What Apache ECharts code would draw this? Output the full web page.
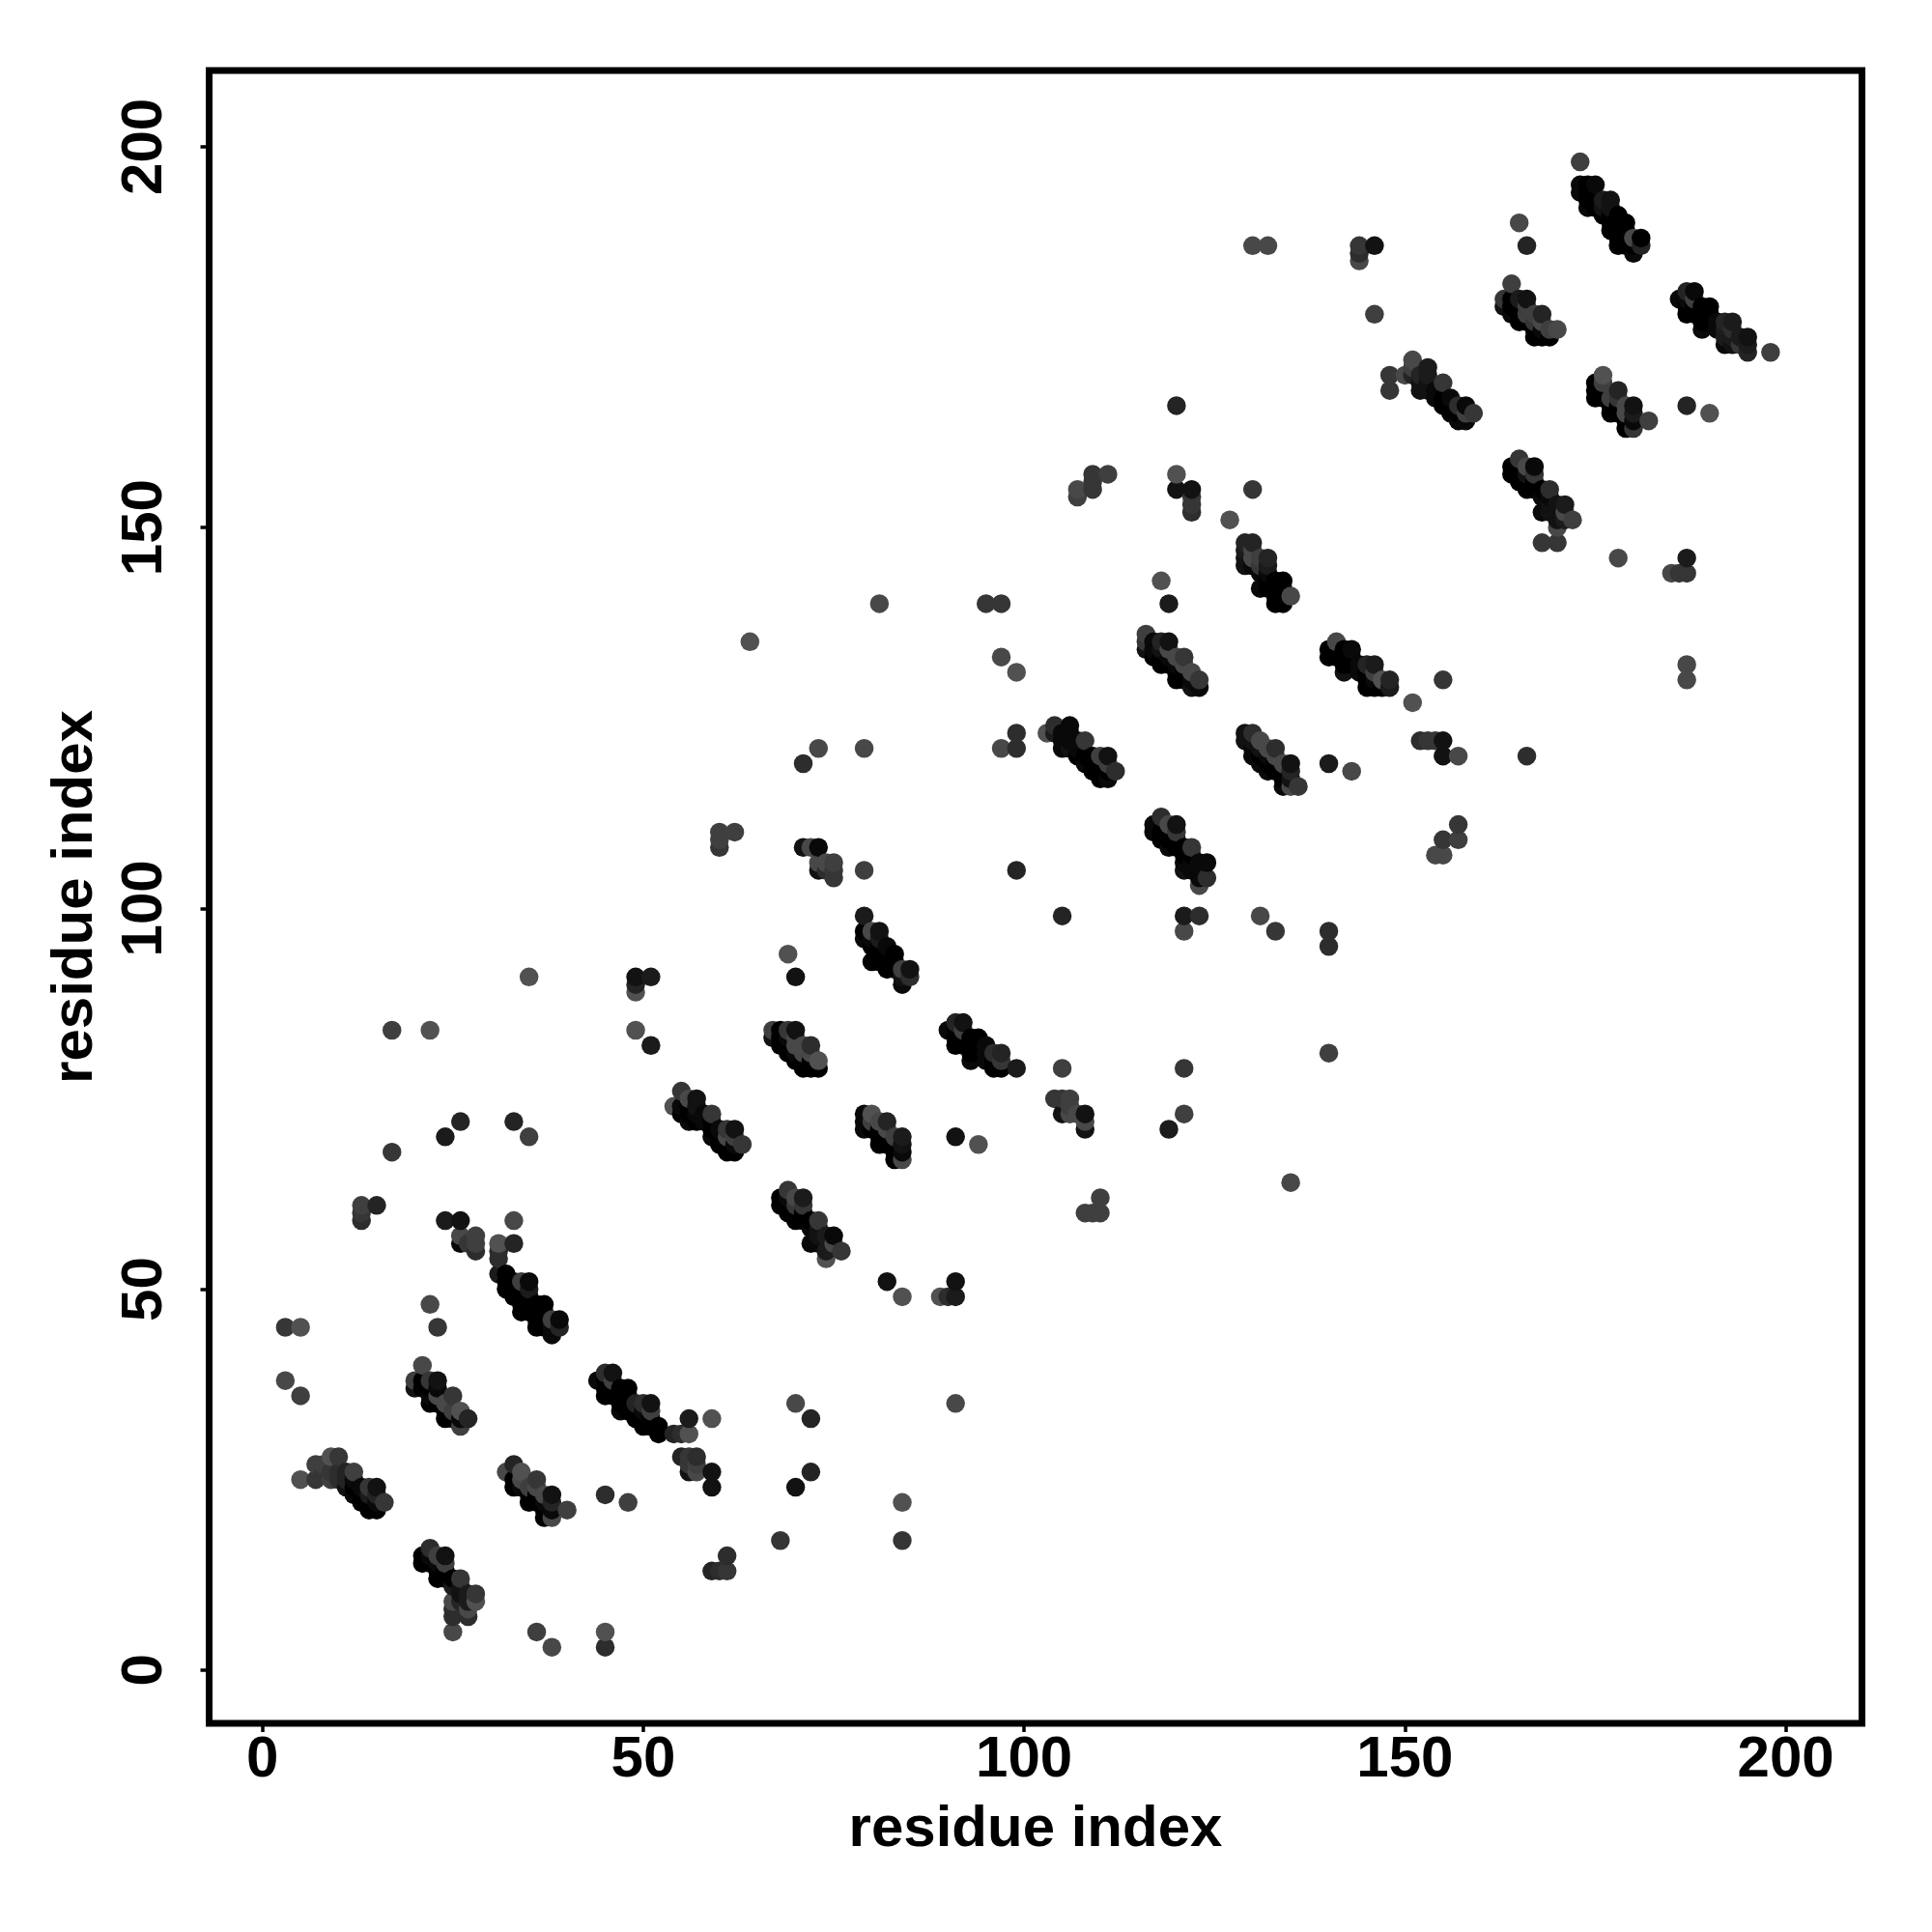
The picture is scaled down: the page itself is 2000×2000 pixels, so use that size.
<!DOCTYPE html>
<html><head><meta charset="utf-8">
<style>html,body{margin:0;padding:0;background:#fff}#c{width:2000px;height:2000px}</style>
<script src="https://cdn.jsdelivr.net/npm/echarts@6/dist/echarts.min.js"></script>
</head><body><div id="c"></div>
<script>
// Contacts: [residue i, residue j, strength 0..9]
const tickValues = [0, 50, 100, 150, 200];
const axisTitle = 'residue index';

const isolated = [
[3,45,3],[5,45,0],[3,38,1],[5,36,2],[22,48,1],[23,45,3],[36,5,2],[38,3,1],[45,5,0],[45,3,4],[45,23,4],[48,22,2],[25,5,1],
[17,84,2],[22,84,0],[35,91,0],[49,91,7],[49,90,5],[49,89,0],[51,91,6],[49,84,0],[51,82,6],
[13,61,2],[13,60,3],[13,59,4],[15,61,5],[17,68,3],[24,70,6],[26,72,5],[33,72,5],[35,70,2],
[24,59,6],[26,59,7],[33,59,1],[33,56,5],[56,33,6],[59,33,0],
[70,35,1],[72,33,5],[72,26,5],[70,24,7],[82,51,7],[84,49,0],[89,49,0],[90,49,4],[91,49,6],[91,51,7],[91,35,1],
[84,22,0],[84,17,3],[68,17,3],[61,15,4],[59,13,5],[60,13,4],[61,13,3],
[60,110,2],[60,109,2],[60,108,3],[62,110,2],[79,105,2],[99,105,5],[79,99,6],[69,94,0],[70,91,7],[91,70,7],[94,69,0],
[81,140,1],[95,140,3],[97,140,3],[97,133,1],[99,131,0],[64,135,0],[73,121,1],[71,119,4],[79,121,1],[99,123,4],[97,121,1],[99,121,4],[105,99,5],
[105,79,2],[121,79,3],[121,73,2],[119,71,6],[140,81,2],[140,97,4],[140,95,4],[133,97,3],[131,99,1],[121,97,1],[123,99,4],[121,99,6],
[110,62,2],[108,60,2],[109,60,2],[110,60,2],[135,64,1],[140,119,6],[143,118,1],[151,127,0],[155,130,3],
[152,122,4],[153,122,3],[154,122,3],[155,122,7],[155,120,7],[157,120,1],[166,120,4],[157,111,3],[157,109,2],[155,109,3],[154,107,1],[155,107,1],
[107,155,1],[107,154,2],[109,157,3],[109,156,3],[109,155,3],[111,157,2],[120,166,5],[120,157,0],[120,155,7],[122,155,7],[122,154,3],[122,153,3],[122,152,4],
[130,155,3],[127,151,0],[118,143,0],[119,140,6],
[130,187,1],[132,187,1],[144,187,3],[144,186,4],[144,185,1],[146,187,7],[146,178,2],[165,190,1],[166,187,5],[187,166,5],[190,165,0],[198,173,2],
[178,146,1],[187,146,6],[185,144,1],[186,144,3],[187,144,3],[187,132,1],[187,130,1],[168,148,3],[170,148,3]
];

const blockA = [
[5,25,0],[7,25,3],[7,27,2],[8,26,3],[8,27,2],[9,25,2],[9,26,3],[9,28,0],[10,25,4],[10,26,4],[10,28,3],[11,24,7],[11,25,5],[11,26,5],
[12,23,8],[12,24,9],[12,25,8],[12,26,2],[13,22,9],[13,23,9],[13,24,8],[14,21,9],[14,22,9],[14,23,6],[14,24,3],[15,21,9],[15,22,8],[15,23,5],[15,24,7],[16,22,3]
];
const blockB = [
[20,37,7],[20,38,2],[21,40,1],[21,37,9],[21,38,9],[22,35,9],[22,36,8],[22,37,9],[22,38,3],[23,35,9],[23,36,1],[23,37,8],[23,38,7],
[24,33,9],[24,34,9],[24,35,1],[25,33,9],[25,34,2],[25,36,3],[26,32,2],[26,33,8],[26,34,0],[27,33,5]
];
const blockC = [
[21,14,9],[21,15,9],[22,14,9],[22,15,8],[22,16,4],[23,12,9],[23,13,9],[23,14,8],[23,15,2],[24,12,9],[24,13,9],[24,14,2],[24,15,7],
[25,12,9],[25,11,6],[25,9,1],[25,8,4],[25,7,4],[26,9,5],[26,10,7],[26,11,7],[26,12,3],[27,7,4],[27,8,1],[27,9,6],[27,10,6],[28,9,0],[28,10,3]
];
const blockD = [
[32,26,1],[33,24,9],[33,25,9],[33,27,5],[34,24,8],[34,25,1],[34,26,0],[35,22,9],[35,23,9],[35,24,2],[36,22,9],[36,23,9],[36,24,1],[36,25,3],
[37,20,9],[37,21,9],[37,22,8],[37,23,1],[38,20,1],[38,21,8],[38,22,5],[38,23,7],[40,21,2]
];
const blockE = [
[26,57,1],[26,56,8],[27,56,3],[28,57,2],[28,56,2],[28,55,4],[31,56,0],[31,55,4],[31,54,4],[31,52,6],
[32,52,9],[32,51,9],[32,50,9],[33,51,9],[33,50,9],[33,49,9],[34,51,2],[34,50,9],[34,49,9],[34,48,9],[34,47,9],
[35,51,8],[35,50,6],[35,49,9],[35,48,9],[35,47,9],[36,48,9],[36,47,9],[36,46,9],[36,45,9],[37,48,9],[37,47,9],[37,46,9],[37,45,9],
[38,46,2],[38,45,8],[38,44,8],[39,46,8],[39,45,5]
];
const blockF = [
[44,38,8],[45,39,4],[45,38,9],[45,37,9],[45,36,9],[46,39,7],[46,38,2],[46,37,9],[46,36,9],[47,37,9],[47,36,9],[47,35,9],[47,34,8],
[48,37,9],[48,36,9],[48,35,9],[48,34,9],[49,35,5],[49,34,9],[49,33,9],[50,35,4],[50,34,8],[50,33,9],[50,32,9],[51,35,7],[51,34,2],[51,33,9],[51,32,9],[52,32,9],[52,31,9],
[54,31,5],[55,31,4],[56,31,0],[55,28,5],[56,28,3],[57,28,4],[56,27,3],[57,27,2],[56,26,7],[57,26,1],[59,26,7],[59,24,7]
];
const blockG = [
[54,74,0],[55,76,3],[55,74,8],[55,73,9],[56,75,1],[56,74,9],[56,73,9],[56,72,8],[57,75,7],[57,74,7],[57,73,8],[57,72,9],[58,73,8],[58,72,8],
[59,73,3],[59,72,9],[59,71,9],[59,70,8],[60,71,8],[60,70,9],[60,69,9],[61,71,3],[61,70,1],[61,69,9],[61,68,9],[62,71,7],[62,70,2],[62,69,8],[62,68,9],[63,69,3]
];
const blockH = [
[67,84,2],[67,83,7],[68,84,9],[68,83,9],[68,82,9],[69,84,3],[69,83,8],[69,82,9],[69,81,9],[70,84,7],[70,83,1],[70,82,1],[70,81,8],[70,80,9],
[71,82,1],[71,81,1],[71,80,9],[71,79,9],[72,82,4],[72,81,1],[72,80,9],[72,79,9],[73,80,0],[73,79,9]
];
const blockI = [
[68,62,9],[68,61,9],[69,63,3],[69,62,8],[69,61,9],[69,60,9],[70,62,1],[70,61,3],[70,60,9],[70,59,9],[71,62,6],[71,61,3],[71,60,9],[71,59,9],
[72,59,9],[72,58,8],[72,56,8],[73,59,3],[73,58,7],[73,57,7],[73,56,8],[74,57,6],[74,55,6],[74,54,0],[75,57,8],[75,56,1],[76,55,3]
];
const blockJ = [
[71,108,7],[72,108,1],[73,108,8],[73,106,1],[73,105,7],[74,106,1],[74,105,4],[75,106,2],[75,105,3],[75,104,3]
];
const blockK = [
[79,97,9],[79,96,8],[80,97,1],[80,96,8],[80,95,9],[80,93,9],[81,97,7],[81,96,6],[81,95,9],[81,94,9],[81,93,9],[82,95,8],[82,94,9],[82,93,9],[82,92,9],
[83,94,9],[83,93,9],[83,92,9],[84,92,2],[84,91,7],[84,90,8],[85,92,7],[85,91,4]
];
const blockL = [
[79,73,8],[79,72,8],[79,71,8],[80,73,0],[80,72,2],[80,71,9],[81,72,1],[81,71,9],[81,70,9],[81,69,9],[82,72,5],[82,71,1],[82,70,9],[82,69,9],
[83,70,2],[83,69,9],[83,68,9],[83,67,9],[84,70,6],[84,69,7],[84,68,8],[84,67,1]
];
const blockM = [
[90,84,8],[91,85,5],[91,84,9],[91,83,9],[91,82,9],[92,85,7],[92,84,2],[92,83,9],[92,82,9],[93,83,9],[93,82,9],[93,81,9],[93,80,8],[94,83,9],[94,82,9],[94,81,9],
[95,82,8],[95,81,8],[95,80,8],[96,81,4],[96,80,9],[96,79,9],[97,81,5],[97,80,3],[97,79,9],[99,79,6]
];
const blockN = [
[103,123,0],[104,124,4],[104,123,6],[105,123,8],[105,122,8],[105,121,8],[106,124,8],[106,123,8],[106,122,8],[106,121,7],[107,122,8],[107,121,8],[107,120,9],
[108,122,3],[108,120,9],[108,119,8],[109,120,9],[109,119,9],[109,118,9],[110,120,2],[110,119,9],[110,118,9],[110,117,9],[111,120,7],[111,119,2],[111,118,9],[111,117,8],[112,118,4]
];
const blockO = [
[104,75,3],[105,75,3],[106,75,2],[105,73,7],[106,73,1],[107,73,1],[106,74,2],[108,73,7],[108,72,1],[108,71,7]
];
const blockP = [
[116,136,2],[116,135,3],[116,134,7],[117,135,8],[117,134,8],[117,133,9],[118,135,5],[118,134,7],[118,133,9],[118,132,9],[119,135,7],[119,134,1],[119,133,8],[119,132,9],
[120,133,1],[120,132,8],[120,131,9],[120,130,9],[121,133,3],[121,132,1],[121,131,9],[121,130,9],[122,131,1],[122,130,8],[122,129,7],[123,130,3],[123,129,8]
];
const blockQ = [
[117,111,8],[117,110,8],[118,112,4],[118,110,9],[118,109,9],[119,111,1],[119,110,9],[119,109,9],[119,108,8],[120,111,7],[120,110,3],[120,109,9],[120,108,9],
[121,108,9],[121,107,9],[121,106,8],[121,105,7],[122,108,3],[122,107,9],[122,106,8],[122,105,8],[123,106,8],[123,105,8],[123,104,8],[123,103,1],[124,106,8],[124,104,4]
];
const blockR = [
[129,148,5],[129,147,6],[129,146,7],[129,145,7],[130,148,5],[130,147,1],[130,146,1],[130,145,8],[131,146,2],[131,145,3],[131,144,8],[131,142,8],
[132,146,5],[132,145,6],[132,144,8],[132,143,9],[132,142,9],[133,143,9],[133,142,9],[133,141,9],[133,140,9],[134,143,9],[134,142,9],[134,141,9],[134,140,9],[135,141,1]
];
const blockS = [
[129,123,7],[129,122,7],[130,123,4],[130,122,7],[130,121,8],[130,120,8],[131,122,1],[131,121,7],[131,120,9],[131,119,8],[132,121,1],[132,120,8],[132,119,9],[132,118,8],
[133,121,4],[133,120,1],[133,119,9],[133,118,9],[134,119,1],[134,118,9],[134,117,9],[134,116,8],[135,119,7],[135,118,5],[135,117,7],[135,116,1],[136,116,3]
];
const blockT = [
[140,134,9],[140,133,9],[141,135,1],[141,134,9],[141,133,9],[142,134,9],[142,133,9],[142,132,9],[142,131,7],[143,134,8],[143,133,9],[143,132,9],
[144,132,8],[144,131,8],[145,132,5],[145,131,9],[145,130,9],[145,129,9],[146,132,6],[146,131,2],[146,130,8],[146,129,9],[147,130,0],[147,129,9],[148,130,5],[148,129,6]
];
const blockU = [
[148,170,3],[148,168,3],[150,170,1],[151,172,1],[151,171,2],[151,170,5],[152,170,5],[152,169,7],[152,168,7],[153,171,6],[153,170,6],[153,169,7],[153,168,7],
[154,168,8],[154,167,8],[155,169,3],[155,167,9],[155,166,9],[156,167,8],[156,166,9],[156,165,9],[157,166,4],[157,165,9],[157,164,8],[158,166,8],[158,165,2],[158,164,8],[159,165,3]
];
const blockV = [
[163,180,3],[163,179,7],[164,182,2],[164,180,9],[164,179,9],[164,178,8],[165,180,6],[165,179,9],[165,178,9],[165,177,9],[166,180,7],[166,179,2],[166,178,2],[166,177,9],
[167,178,2],[167,177,3],[167,176,9],[167,175,9],[168,178,5],[168,177,1],[168,176,8],[168,175,9],[169,176,2],[169,175,9],[170,176,1]
];
const blockW = [
[164,158,9],[164,157,9],[165,159,3],[165,157,9],[165,156,9],[166,158,1],[166,157,7],[166,156,9],[166,155,9],[167,158,8],[167,157,3],[167,156,9],[167,155,9],
[168,155,9],[168,154,8],[168,152,8],[169,155,4],[169,154,8],[169,153,7],[169,152,7],[170,153,7],[170,152,7],[170,151,7],[170,150,1],[171,153,6],[171,152,1],[171,151,6],[172,151,2]
];
const blockX = [
[175,169,9],[175,168,9],[175,167,9],[176,170,0],[176,169,2],[176,168,9],[176,167,9],[177,167,2],[177,166,9],[177,165,9],[178,168,5],[178,167,3],[178,166,9],[178,165,9],
[179,166,1],[179,165,1],[179,164,9],[179,163,9],[180,166,7],[180,165,6],[180,164,8],[180,163,3],[182,164,2]
];
const blockY = [
[173,198,2],[173,195,8],[173,194,8],[174,195,9],[174,194,9],[174,193,9],[174,192,8],[175,195,8],[175,193,9],[175,192,9],[176,193,6],[176,192,7],[176,191,9],
[177,193,7],[177,192,7],[177,191,9],[177,190,9],[177,189,9],[178,191,9],[178,190,9],[178,189,9],[178,188,9],[178,187,9],[179,190,9],[179,189,9],[179,188,9],[179,187,9],
[180,188,1],[180,187,9],[180,186,8],[181,188,9],[181,187,5]
];
const blockZ = [
[186,180,8],[187,181,5],[187,180,8],[187,179,9],[187,178,9],[188,181,8],[188,180,2],[188,179,9],[188,178,9],[189,179,9],[189,178,9],[189,177,9],[189,176,8],
[190,179,9],[190,178,9],[190,177,9],[191,177,8],[191,176,8],[192,177,5],[192,176,6],[192,175,6],[192,174,8],[193,177,6],[193,176,4],[193,175,6],[193,174,7],[194,175,6],[194,174,3],
[195,175,7],[195,174,6],[195,173,5]
];

const allBlocks = [isolated, blockA, blockB, blockC, blockD, blockE, blockF, blockG, blockH, blockI, blockJ, blockK, blockL, blockM,
  blockN, blockO, blockP, blockQ, blockR, blockS, blockT, blockU, blockV, blockW, blockX, blockY, blockZ];

// Points are painted in order of residue i, then residue j.
const contacts = allBlocks.flat().sort((a, b) => a[0] - b[0] || a[1] - b[1]);
const greyOf = s => { const g = (9 - s) * 9; return 'rgb(' + g + ',' + g + ',' + g + ')'; };

const FONT = '"Liberation Sans", Arial, sans-serif';
const chart = echarts.init(document.getElementById('c'), null, { renderer: 'canvas' });
const axisBase = {
  type: 'value', min: -7, max: 210, scale: false,
  splitLine: { show: false }, axisLine: { show: false, onZero: false },
  name: axisTitle, nameLocation: 'middle',
  nameTextStyle: { fontFamily: FONT, fontWeight: 'bold', fontSize: 60, color: '#000' }
};
chart.setOption({
  animation: false,
  backgroundColor: '#fff',
  grid: { left: 216.5, right: 72.5, top: 73, bottom: 216, show: true, borderColor: '#000', borderWidth: 7, backgroundColor: 'transparent' },
  xAxis: Object.assign({}, axisBase, {
    nameGap: 80,
    axisTick: { show: true, length: 9, customValues: tickValues, lineStyle: { color: '#000', width: 3.5 } },
    axisLabel: { show: true, customValues: tickValues, margin: 8, fontFamily: FONT, fontWeight: 'bold', fontSize: 60, color: '#000' }
  }),
  yAxis: Object.assign({}, axisBase, {
    nameGap: 108,
    axisTick: { show: true, length: 9, customValues: tickValues, lineStyle: { color: '#000', width: 3.5 } },
    axisLabel: { show: true, customValues: tickValues, rotate: 90, margin: 66, fontFamily: FONT, fontWeight: 'bold', fontSize: 60, color: '#000', align: 'center', verticalAlign: 'middle' }
  }),
  series: [{
    type: 'scatter',
    symbol: 'circle',
    symbolSize: 19.5,
    clip: false,
    silent: true,
    progressive: 0,
    data: contacts,
    itemStyle: { color: p => greyOf(p.value[2]), opacity: 1 }
  }]
});
</script></body></html>
